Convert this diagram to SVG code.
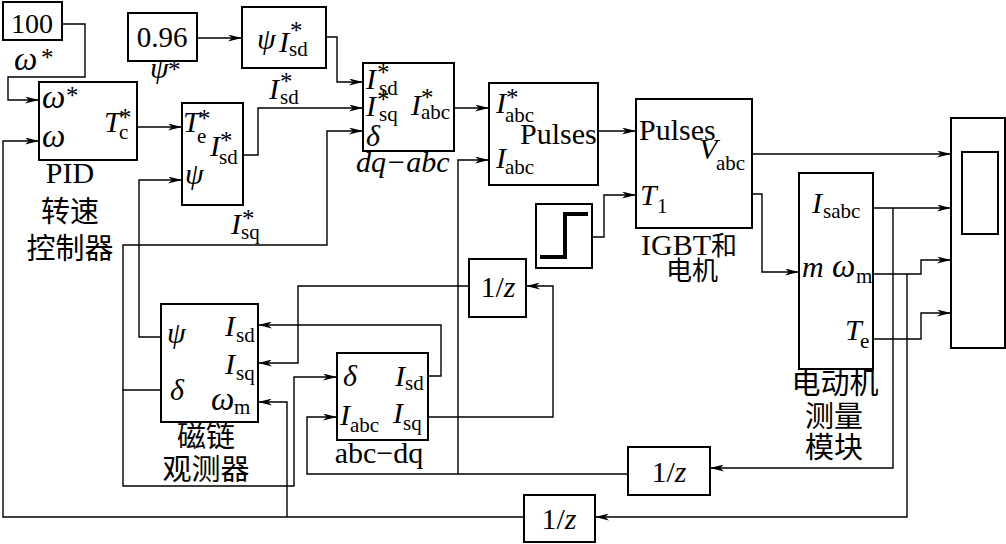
<svg xmlns="http://www.w3.org/2000/svg" width="1006" height="544" viewBox="0 0 1006 544">
<style>
.box{fill:none;stroke:#000;stroke-width:2}
.w{fill:none;stroke:#000;stroke-width:1.4}
.wa{fill:none;stroke:#000;stroke-width:1.4;marker-end:url(#ar)}
text{font-family:"Liberation Serif","Times New Roman",serif;font-size:30px;fill:#000}
.i{font-style:italic}
.s{font-size:21px;font-style:normal}
.st{font-size:25px;font-style:normal}
.om{font-size:33px;font-style:italic}
.cn{font-family:"Noto Sans CJK SC",sans-serif;font-size:29px}
.cn2{font-family:"Noto Sans CJK SC",sans-serif;font-size:26px}
</style>
<defs>
<marker id="ar" markerUnits="userSpaceOnUse" markerWidth="14" markerHeight="7" refX="14" refY="3.5" orient="auto">
<path d="M0,0 L14,3.5 L0,7 L4,3.5 Z" fill="#000"/>
</marker>
</defs>
<rect width="1006" height="544" fill="#fff"/>

<g id="connectors">
<path class="wa" d="M62,24 H85 V77 H8 V100 H39"/>
<path class="wa" d="M197,38 H242"/>
<path class="wa" d="M326,37 H337 V82 H363"/>
<path class="wa" d="M137,127 H182"/>
<path class="wa" d="M243,155 H258 V108 H363"/>
<path class="wa" d="M161,390 H123 V245 H327 V131 H363"/>
<path class="wa" d="M123,390 V486 H294 V377 H337"/>
<path class="wa" d="M161,337 H139 V180 H182"/>
<path class="wa" d="M454,108 H489"/>
<path class="wa" d="M598,131 H636"/>
<path class="wa" d="M592,237 H604 V195 H636"/>
<path class="wa" d="M752,154 H951"/>
<path class="wa" d="M752,194 H762 V272 H799"/>
<path class="wa" d="M873,208 H951"/>
<path class="wa" d="M893,208 V468 H710"/>
<path class="wa" d="M628,474 H307 V417 H337"/>
<path class="wa" d="M458,474 V160 H489"/>
<path class="wa" d="M873,274 H921 V260 H951"/>
<path class="wa" d="M907,274 V517 H595"/>
<path class="wa" d="M524,517 H3 V141 H39"/>
<path class="wa" d="M287,517 V402 H258"/>
<path class="wa" d="M873,339 H921 V313 H951"/>
<path class="wa" d="M428,376 H441 V325 H258"/>
<path class="wa" d="M428,417 H553 V286 H526"/>
<path class="wa" d="M469,286 H298 V363 H258"/>
</g>

<g id="const100">
<rect class="box" x="3" y="2" width="59" height="38"/>
<text x="32" y="33" text-anchor="middle" style="font-size:28px">100</text>
<text><tspan class="om" x="14" y="70">ω</tspan><tspan class="st" x="41" y="66">*</tspan></text>
</g>

<g id="const096">
<rect class="box" x="128" y="13" width="69" height="48"/>
<text x="162" y="47" text-anchor="middle" style="font-size:29px">0.96</text>
<text class="i"><tspan x="150" y="78">ψ</tspan><tspan class="st" x="168" y="78">*</tspan></text>
</g>

<g id="psiIsd">
<rect class="box" x="242" y="7" width="84" height="61"/>
<text class="i"><tspan x="257" y="49">ψ</tspan><tspan x="279" y="52">I</tspan><tspan class="st" x="290" y="39">*</tspan><tspan class="s" x="289" y="56">sd</tspan></text>
</g>

<g id="pid">
<rect class="box" x="39" y="82" width="98" height="78"/>
<text><tspan class="om" x="42" y="108">ω</tspan><tspan class="st" x="66" y="104">*</tspan></text>
<text class="om" x="42" y="147">ω</text>
<text class="i"><tspan x="104" y="132">T</tspan><tspan class="st" x="119" y="126">*</tspan><tspan class="s" x="119" y="139">c</tspan></text>
<text x="70" y="183" text-anchor="middle">PID</text>
<text class="cn" x="70" y="222" text-anchor="middle">转速</text>
<text class="cn" x="70" y="259" text-anchor="middle">控制器</text>
</g>

<g id="teblock">
<rect class="box" x="182" y="103" width="61" height="102"/>
<text class="i"><tspan x="183" y="132">T</tspan><tspan class="st" x="198" y="127">*</tspan><tspan class="s" x="197" y="143">e</tspan></text>
<text class="i"><tspan x="210" y="156">I</tspan><tspan class="st" x="220" y="149">*</tspan><tspan class="s" x="219" y="164">sd</tspan></text>
<text class="i" x="185" y="184">ψ</text>
<text class="i"><tspan x="231" y="234">I</tspan><tspan class="st" x="242" y="227">*</tspan><tspan class="s" x="241" y="239">sq</tspan></text>
<text class="i"><tspan x="269" y="99">I</tspan><tspan class="st" x="280" y="90">*</tspan><tspan class="s" x="280" y="104">sd</tspan></text>
</g>

<g id="dqabc">
<rect class="box" x="363" y="63" width="91" height="88"/>
<text class="i"><tspan x="366" y="89">I</tspan><tspan class="st" x="377" y="81">*</tspan><tspan class="s" x="379" y="95">sd</tspan></text>
<text class="i"><tspan x="366" y="116">I</tspan><tspan class="st" x="377" y="108">*</tspan><tspan class="s" x="379" y="121">sq</tspan></text>
<text class="i" x="366" y="146">δ</text>
<text class="i"><tspan x="411" y="115">I</tspan><tspan class="st" x="421" y="106">*</tspan><tspan class="s" x="421" y="119">abc</tspan></text>
<text class="i" x="356" y="172">dq−abc</text>
</g>

<g id="pulsegen">
<rect class="box" x="489" y="83" width="109" height="102"/>
<text class="i"><tspan x="496" y="113">I</tspan><tspan class="st" x="506" y="106">*</tspan><tspan class="s" x="505" y="122">abc</tspan></text>
<text x="520" y="144">Pulses</text>
<text class="i"><tspan x="496" y="168">I</tspan><tspan class="s" x="505" y="174">abc</tspan></text>
</g>

<g id="igbt">
<rect class="box" x="636" y="99" width="116" height="129"/>
<text x="639" y="140">Pulses</text>
<text class="i"><tspan x="699" y="159">V</tspan><tspan class="s" x="716" y="170">abc</tspan></text>
<text class="i"><tspan x="640" y="205">T</tspan><tspan class="s" x="657" y="213">1</tspan></text>
<text x="689" y="255" text-anchor="middle">IGBT<tspan class="cn2">和</tspan></text>
<text class="cn2" x="692" y="280" text-anchor="middle">电机</text>
</g>

<g id="step">
<rect class="box" x="536" y="204" width="56" height="64"/>
<path d="M540,257 H565 V214 H588" fill="none" stroke="#000" stroke-width="4"/>
</g>

<g id="fluxobs">
<rect class="box" x="161" y="304" width="97" height="118"/>
<text class="i" x="167" y="343">ψ</text>
<text class="i"><tspan x="225" y="336">I</tspan><tspan class="s" x="236" y="342">sd</tspan></text>
<text class="i"><tspan x="225" y="374">I</tspan><tspan class="s" x="236" y="380">sq</tspan></text>
<text class="i" x="170" y="400">δ</text>
<text><tspan class="om" x="211" y="410">ω</tspan><tspan class="s" x="234" y="414">m</tspan></text>
<text class="cn" x="206" y="447" text-anchor="middle">磁链</text>
<text class="cn" x="206" y="480" text-anchor="middle">观测器</text>
</g>

<g id="abcdq">
<rect class="box" x="337" y="353" width="91" height="87"/>
<text class="i" x="343" y="386">δ</text>
<text class="i"><tspan x="395" y="386">I</tspan><tspan class="s" x="405" y="390">sd</tspan></text>
<text class="i"><tspan x="340" y="425">I</tspan><tspan class="s" x="350" y="432">abc</tspan></text>
<text class="i"><tspan x="393" y="423">I</tspan><tspan class="s" x="403" y="430">sq</tspan></text>
<text x="379" y="463" text-anchor="middle">abc−dq</text>
</g>

<g id="delay1">
<rect class="box" x="469" y="259" width="57" height="58"/>
<text x="498" y="297" text-anchor="middle">1/<tspan class="i">z</tspan></text>
</g>

<g id="delay2">
<rect class="box" x="628" y="447" width="82" height="48"/>
<text x="669" y="482" text-anchor="middle">1/<tspan class="i">z</tspan></text>
</g>

<g id="delay3">
<rect class="box" x="524" y="495" width="71" height="47"/>
<text x="559" y="529" text-anchor="middle">1/<tspan class="i">z</tspan></text>
</g>

<g id="meas">
<rect class="box" x="799" y="173" width="74" height="196"/>
<text class="i"><tspan x="812" y="213">I</tspan><tspan class="s" x="823" y="218">sabc</tspan></text>
<text class="i" x="802" y="277">m</text>
<text><tspan class="om" x="832" y="277">ω</tspan><tspan class="s" x="856" y="283">m</tspan></text>
<text class="i"><tspan x="845" y="340">T</tspan><tspan class="s" x="860" y="348">e</tspan></text>
<text class="cn" x="835" y="394" text-anchor="middle">电动机</text>
<text class="cn" x="834" y="427" text-anchor="middle">测量</text>
<text class="cn" x="834" y="458" text-anchor="middle">模块</text>
</g>

<g id="scope">
<rect class="box" x="951" y="118" width="54" height="230"/>
<rect class="box" x="962" y="152" width="36" height="82"/>
</g>
</svg>
